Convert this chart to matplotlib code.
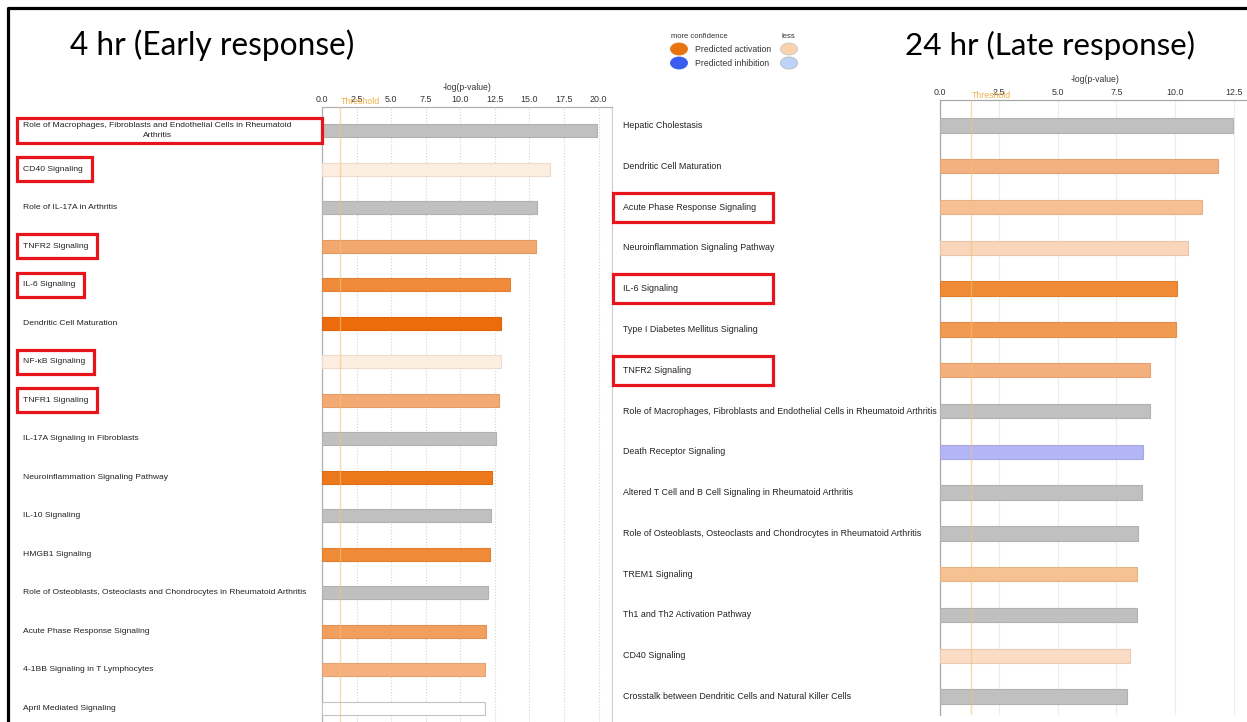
import matplotlib.pyplot as plt
import matplotlib.transforms as mtransforms
from matplotlib.colors import to_rgb
from matplotlib.lines import Line2D
from matplotlib.patches import Ellipse, Rectangle

W, H = 1247, 722

#--4 hr: canonical pathways, -log(p-value), bar shade (z-score)
early_paths = [
    'Role of Macrophages, Fibroblasts and Endothelial Cells in Rheumatoid\nArthritis',
    'CD40 Signaling',
    'Role of IL-17A in Arthritis',
    'TNFR2 Signaling',
    'IL-6 Signaling',
    'Dendritic Cell Maturation',
    'NF-κB Signaling',
    'TNFR1 Signaling',
    'IL-17A Signaling in Fibroblasts',
    'Neuroinflammation Signaling Pathway',
    'IL-10 Signaling',
    'HMGB1 Signaling',
    'Role of Osteoblasts, Osteoclasts and Chondrocytes in Rheumatoid Arthritis',
    'Acute Phase Response Signaling',
    '4-1BB Signaling in T Lymphocytes',
    'April Mediated Signaling',
]
early_vals = [19.9, 16.5, 15.55, 15.5, 13.6, 12.97, 12.95, 12.83,
              12.59, 12.27, 12.25, 12.13, 12.01, 11.83, 11.82, 11.77]
early_cols = ['#c0c0c0', '#fdeee2', '#c0c0c0', '#f2a86e', '#ef8b3a', '#ec6c0c', '#fdeee2', '#f2aa72',
              '#c0c0c0', '#eb781a', '#c0c0c0', '#ef8a36', '#c0c0c0', '#f29e5c', '#f5b07e', '#ffffff']
early_boxed = [0, 1, 3, 4, 6, 7]

#--24 hr
late_paths = [
    'Hepatic Cholestasis',
    'Dendritic Cell Maturation',
    'Acute Phase Response Signaling',
    'Neuroinflammation Signaling Pathway',
    'IL-6 Signaling',
    'Type I Diabetes Mellitus Signaling',
    'TNFR2 Signaling',
    'Role of Macrophages, Fibroblasts and Endothelial Cells in Rheumatoid Arthritis',
    'Death Receptor Signaling',
    'Altered T Cell and B Cell Signaling in Rheumatoid Arthritis',
    'Role of Osteoblasts, Osteoclasts and Chondrocytes in Rheumatoid Arthritis',
    'TREM1 Signaling',
    'Th1 and Th2 Activation Pathway',
    'CD40 Signaling',
    'Crosstalk between Dendritic Cells and Natural Killer Cells',
]
late_vals = [12.46, 11.82, 11.14, 10.54, 10.1, 10.03, 8.95, 8.92,
             8.64, 8.59, 8.41, 8.37, 8.37, 8.1, 7.97]
late_cols = ['#c0c0c0', '#f3b080', '#f6bf94', '#f9d6bb', '#ef8a35', '#f09a52', '#f3b07c', '#c0c0c0',
             '#b4b5f7', '#c0c0c0', '#c0c0c0', '#f6c293', '#c0c0c0', '#fbdcc5', '#c0c0c0']
late_boxed = [2, 4, 6]

early_ticks = [0, 2.5, 5, 7.5, 10, 12.5, 15, 17.5, 20]
late_ticks = [0, 2.5, 5, 7.5, 10, 12.5]
threshold = 1.3

plt.rcParams['font.family'] = ['Liberation Sans', 'DejaVu Sans']
fig = plt.figure(figsize=(W / 100, H / 100), dpi=100)
#--image pixel coords (y down)
px = mtransforms.Affine2D().scale(1 / W, -1 / H).translate(0, 1) + fig.transFigure


def edge_of(c):
  if c == '#ffffff':
    return '#c4c4c4'
  r, g, b = to_rgb(c)
  return (r * 0.94, g * 0.92, b * 0.90)


def panel(x0, x1, y0, y1, row0, step, pxunit, bar_px, vals, cols, ticks, gridls, gridc, spinec):
  ax = fig.add_axes([x0 / W, 1 - y1 / H, (x1 - x0) / W, (y1 - y0) / H])
  n = len(vals)
  ax.barh(range(n), vals, height=bar_px / step, color=cols,
          edgecolor=[edge_of(c) for c in cols], linewidth=0.8, zorder=3)
  ax.set_xlim(0, (x1 - x0) / pxunit)
  ax.set_ylim((y1 - row0) / step, (y0 - row0) / step)
  ax.set_yticks([])
  ax.set_xticks(ticks)
  ax.set_xticklabels(['%.1f' % t for t in ticks])
  ax.xaxis.tick_top()
  ax.tick_params(axis='x', length=0, pad=2.5, labelsize=6.4, labelcolor='#333333')
  ax.grid(axis='x', color=gridc, linestyle=gridls, linewidth=0.8, zorder=0)
  ax.set_axisbelow(True)
  ax.axvline(threshold, color='#f5c27a', lw=1.0, alpha=0.6, zorder=4)
  ax.spines['bottom'].set_visible(False)
  for s in ['top', 'left', 'right']:
    ax.spines[s].set_color(spinec)
    ax.spines[s].set_linewidth(0.9)
  ax.text(0.5, y0 - 20, '-log(p-value)', fontsize=6.2, color='#333333', ha='center', va='center',
          transform=mtransforms.blended_transform_factory(ax.transAxes, px))
  ax.text(threshold + 0.05, y0 - 5, 'Threshold', fontsize=6.3, color='#f0b04a', ha='left', va='center',
          transform=mtransforms.blended_transform_factory(ax.transData, px))
  return ax


#--4 hr panel
axl = panel(322, 612, 107, 722, 130.6, 38.51, 13.83, 13, early_vals, early_cols,
            early_ticks, ':', '#d4d4d4', '#b0b0b0')
axl.spines['right'].set_color('#d0d0d0')
#--24 hr panel
axr = panel(940.3, W + 2, 100, 715, 125.5, 40.79, 23.47, 14.4, late_vals, late_cols,
            late_ticks, '-', '#ececec', '#a8a8a8')
axr.spines['right'].set_visible(False)

lbl_l = []
tl = mtransforms.blended_transform_factory(px, axl.transData)
for i, p in enumerate(early_paths):
  lbl_l.append(axl.text(23, i, p, fontsize=6.1, color='#222222', ha='left', va='center',
                        multialignment='center', linespacing=1.5, transform=tl, clip_on=False))
tr = mtransforms.blended_transform_factory(px, axr.transData)
for i, p in enumerate(late_paths):
  axr.text(623, i, p, fontsize=6.4, color='#222222', ha='left', va='center', transform=tr, clip_on=False)

#--red highlight boxes round selected pathways
fig.canvas.draw()
red = '#e8141c'
for i in early_boxed:
  ext = lbl_l[i].get_window_extent()
  right = 322 if i == 0 else ext.x1 + 9
  h = max(24, ext.height + 8)
  yc = H - (ext.y0 + ext.y1) / 2
  fig.add_artist(Rectangle((17, yc - h / 2), right - 17, h, transform=px, fill=False,
                           edgecolor=red, linewidth=2.3, clip_on=False))
rowc = axr.transData.transform([(0, i) for i in late_boxed])
for (_, yd) in rowc:
  yc = H - yd
  fig.add_artist(Rectangle((613, yc - 14.5), 160, 29, transform=px, fill=False,
                           edgecolor=red, linewidth=2.3, clip_on=False))

#--outer frame
fig.add_artist(Line2D([7.5, 7.5, W], [H, 7.5, 7.5], transform=px, color='black', linewidth=2.3))

#--titles
fig.text(70, 45, '4 hr (Early response)', transform=px, family='Lato', fontsize=22.8,
         ha='left', va='center', color='black')
fig.text(905, 45, '24 hr (Late response)', transform=px, family='Lato', fontsize=22.6,
         ha='left', va='center', color='black')

#--colour key
fig.text(671, 36, 'more confidence', transform=px, fontsize=5.5, color='#333333', va='center')
fig.text(781, 36, 'less', transform=px, fontsize=5.5, color='#333333', va='center')
fig.text(695, 49, 'Predicted activation', transform=px, fontsize=6.2, color='#333333', va='center')
fig.text(695, 63, 'Predicted inhibition', transform=px, fontsize=6.2, color='#333333', va='center')
for (cx, cy, fc, ec) in [(679, 49, '#e8740f', '#e8740f'), (789, 49, '#f8d3ae', '#c8c8c8'),
                         (679, 63, '#3a5cf0', '#3a5cf0'), (789, 63, '#bcd4f8', '#b8b8b8')]:
  fig.add_artist(Ellipse((cx, cy), 17, 12, transform=px, facecolor=fc, edgecolor=ec, linewidth=0.6))

fig.savefig('out.png', dpi=100)
